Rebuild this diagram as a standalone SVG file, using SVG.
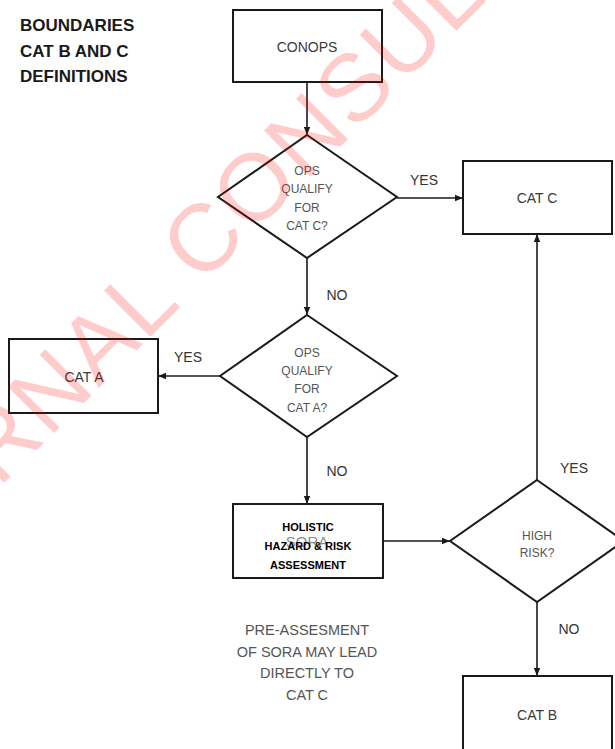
<svg xmlns="http://www.w3.org/2000/svg" width="615" height="749" viewBox="0 0 615 749">
<defs>
<style>
.box{fill:#fff;stroke:#1a1a1a;stroke-width:2}
.dia{fill:none;stroke:#1a1a1a;stroke-width:2}
.con{fill:none;stroke:#1a1a1a;stroke-width:1.6}
.t{font-family:"Liberation Sans",Arial,sans-serif;text-anchor:middle;fill:#3a3a3a;font-size:14px}
.d{font-family:"Liberation Sans",Arial,sans-serif;text-anchor:middle;fill:#555;font-size:12px}
.lbl{font-family:"Liberation Sans",Arial,sans-serif;text-anchor:middle;fill:#333;font-size:14px}
.b{font-family:"Liberation Sans",Arial,sans-serif;text-anchor:middle;fill:#000;font-size:11px;font-weight:bold}
.title{font-family:"Liberation Sans",Arial,sans-serif;fill:#1a1a1a;font-size:17px;font-weight:bold}
.wm{font-family:"Liberation Sans",Arial,sans-serif;font-size:95px;fill:#ff0000;fill-opacity:0.2}
</style>
<marker id="ah" viewBox="0 0 10 10" refX="10" refY="5" markerWidth="8" markerHeight="8" markerUnits="userSpaceOnUse" orient="auto">
<path d="M0,1 L10,5 L0,9 Z" fill="#1a1a1a"/>
</marker>
</defs>
<rect width="615" height="749" fill="#fff"/>

<g id="title">
<text class="title" x="20" y="31">BOUNDARIES</text>
<text class="title" x="20" y="57">CAT B AND C</text>
<text class="title" x="20" y="82">DEFINITIONS</text>
</g>

<g id="connectors">
<line class="con" x1="307" y1="82" x2="307" y2="135" marker-end="url(#ah)"/>
<line class="con" x1="397" y1="198" x2="463" y2="198" marker-end="url(#ah)"/>
<line class="con" x1="307" y1="258" x2="307" y2="315" marker-end="url(#ah)"/>
<line class="con" x1="220" y1="376" x2="158" y2="376" marker-end="url(#ah)"/>
<line class="con" x1="307" y1="437" x2="307" y2="504" marker-end="url(#ah)"/>
<line class="con" x1="383" y1="541" x2="450" y2="541" marker-end="url(#ah)"/>
<line class="con" x1="537" y1="480" x2="537" y2="234" marker-end="url(#ah)"/>
<line class="con" x1="537" y1="602" x2="537" y2="676" marker-end="url(#ah)"/>
<text class="lbl" x="424" y="185">YES</text>
<text class="lbl" x="337" y="300">NO</text>
<text class="lbl" x="188" y="362">YES</text>
<text class="lbl" x="337" y="476">NO</text>
<text class="lbl" x="574" y="473">YES</text>
<text class="lbl" x="569" y="634">NO</text>
</g>

<g id="conops">
<rect class="box" x="233" y="10" width="149" height="72"/>
<text class="t" x="307" y="52">CONOPS</text>
</g>

<g id="q-cat-c">
<polygon class="dia" points="307,135 397,197 307,258 218,197"/>
<text class="d" x="307" y="175">OPS</text>
<text class="d" x="307" y="193">QUALIFY</text>
<text class="d" x="307" y="211.5">FOR</text>
<text class="d" x="307" y="230">CAT C?</text>
</g>

<g id="cat-c">
<rect class="box" x="463" y="161" width="149" height="73"/>
<text class="t" x="537" y="203">CAT C</text>
</g>

<g id="q-cat-a">
<polygon class="dia" points="307,315 397,376 307,437 220,376"/>
<text class="d" x="307" y="356.5">OPS</text>
<text class="d" x="307" y="375">QUALIFY</text>
<text class="d" x="307" y="393">FOR</text>
<text class="d" x="307" y="411.5">CAT A?</text>
</g>

<g id="cat-a">
<rect class="box" x="9" y="339" width="149" height="74"/>
<text class="t" x="84" y="382">CAT A</text>
</g>

<g id="holistic">
<rect class="box" x="233" y="504" width="150" height="74"/>
<text class="t" x="307" y="547" style="fill:#8a8a8a;font-size:15px">SORA</text>
<text class="b" x="308" y="531">HOLISTIC</text>
<text class="b" x="308" y="550">HAZARD &amp; RISK</text>
<text class="b" x="308" y="569">ASSESSMENT</text>
</g>

<g id="high-risk">
<polygon class="dia" points="537,480 624,541 537,602 450,541"/>
<text class="d" x="537" y="539.5">HIGH</text>
<text class="d" x="537" y="556.5">RISK?</text>
</g>

<g id="cat-b">
<rect class="box" x="463" y="676" width="149" height="90"/>
<text class="t" x="537" y="720">CAT B</text>
</g>

<g id="note">
<text class="t" x="307" y="635" style="fill:#555;font-size:14.5px">PRE-ASSESMENT</text>
<text class="t" x="307" y="656.5" style="fill:#555;font-size:14.5px">OF SORA MAY LEAD</text>
<text class="t" x="307" y="678" style="fill:#555;font-size:14.5px">DIRECTLY TO</text>
<text class="t" x="307" y="699.5" style="fill:#555;font-size:14.5px">CAT C</text>
</g>

<g id="watermark">
<text class="wm" transform="translate(-160,647) rotate(-45)" x="0" y="0" letter-spacing="2">INTERNAL CONSULTATION</text>
</g>
</svg>
